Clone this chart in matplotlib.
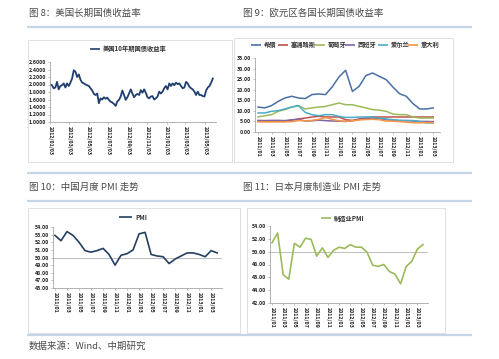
import numpy as np
import pandas as pd
import matplotlib
matplotlib.use("Agg")
import matplotlib.pyplot as plt
from matplotlib.lines import Line2D
from matplotlib.patches import Rectangle

plt.rcParams['font.family'] = ['Noto Sans CJK SC', 'DejaVu Sans']

# ---- data ----
us_yield = [2.00, 1.98, 1.90, 1.92, 2.07, 1.87, 1.96, 1.98, 2.03, 1.92, 2.03, 1.96, 2.05, 2.16,
            2.38, 2.34, 2.20, 2.27, 2.13, 2.05, 2.03, 2.00, 1.98, 1.96, 1.90, 1.84, 1.75, 1.72,
            1.76, 1.50, 1.63, 1.60, 1.66, 1.62, 1.65, 1.59, 1.54, 1.52, 1.48, 1.43, 1.55, 1.59,
            1.68, 1.84, 1.72, 1.59, 1.66, 1.76, 1.87, 1.76, 1.66, 1.72, 1.75, 1.72, 1.85, 1.78,
            1.87, 1.78, 1.66, 1.63, 1.68, 1.69, 1.60, 1.63, 1.68, 1.81, 1.76, 1.81, 1.90, 1.96,
            1.87, 2.03, 1.96, 2.03, 1.98, 2.05, 2.01, 2.03, 1.96, 1.90, 1.92, 2.07, 2.03, 1.94,
            1.90, 1.87, 1.81, 1.72, 1.81, 1.72, 1.72, 1.69, 1.68, 1.84, 1.92, 1.96, 2.05, 2.16]
us_ticks = ['2012/01/03', '2012/03/03', '2012/05/03', '2012/07/03', '2012/09/03',
            '2012/11/03', '2013/01/03', '2013/03/03', '2013/05/03']

euro_names = ['希腊', '塞浦路斯', '葡萄牙', '西班牙', '爱尔兰', '意大利']
greece = [11.8, 11.4, 12.5, 14.5, 16.1, 16.9, 16.1, 15.8, 17.7, 18.0, 17.7, 21.3, 26.0, 29.2,
          19.2, 21.6, 26.7, 27.9, 26.3, 24.8, 21.3, 18.1, 16.9, 13.4, 10.9, 10.9, 11.4]
cyprus = [5.0, 5.0, 5.0, 5.0, 5.0, 5.5, 6.2, 6.6, 7.1, 7.4, 7.1, 7.1, 7.1, 5.8, 5.5, 6.2, 6.6,
          7.1, 7.1, 7.1, 7.1, 7.1, 7.1, 7.1, 7.1, 7.1, 7.1]
portugal = [7.1, 7.7, 8.2, 9.8, 10.6, 11.8, 12.5, 10.9, 11.4, 11.8, 12.1, 12.9, 13.7, 12.9, 12.9,
            12.1, 11.4, 10.6, 10.3, 9.8, 8.5, 8.2, 8.2, 7.1, 6.6, 6.6, 6.6]
spain = [5.5, 5.4, 5.5, 5.5, 5.4, 5.8, 6.0, 5.2, 5.3, 5.6, 5.4, 5.2, 5.1, 5.0, 5.3, 5.9, 6.4,
         6.6, 6.3, 5.8, 5.6, 5.4, 5.3, 5.2, 5.0, 5.0, 4.9]
ireland = [9.0, 9.0, 9.8, 10.1, 10.9, 11.8, 12.5, 9.3, 8.2, 7.7, 8.2, 8.2, 7.4, 6.9, 6.9, 7.1,
           7.1, 7.1, 6.6, 6.2, 5.8, 5.5, 5.5, 5.4, 5.0, 4.3, 4.3]
italy = [4.8, 4.8, 4.8, 4.8, 4.8, 4.9, 5.4, 5.3, 5.5, 6.0, 6.8, 6.0, 5.3, 5.0, 5.3, 5.7, 5.9,
         6.0, 5.8, 5.2, 5.1, 4.9, 4.6, 4.4, 4.3, 4.5, 4.4]
euro_months = ['2011/01', '2011/02', '2011/03', '2011/04', '2011/05', '2011/06', '2011/07',
               '2011/08', '2011/09', '2011/10', '2011/11', '2011/12', '2012/01', '2012/02',
               '2012/03', '2012/04', '2012/05', '2012/06', '2012/07', '2012/08', '2012/09',
               '2012/10', '2012/11', '2012/12', '2013/01', '2013/02', '2013/03']

pmi_months = euro_months + ['2013/04']
china_pmi = [52.9, 52.2, 53.4, 52.9, 52.0, 50.9, 50.7, 50.9, 51.2, 50.4, 49.0, 50.3, 50.5, 51.0,
             53.1, 53.3, 50.4, 50.2, 50.1, 49.2, 49.8, 50.2, 50.6, 50.6, 50.4, 50.1, 50.9, 50.6]
japan_pmi = [51.4, 52.9, 46.4, 45.7, 51.3, 50.7, 52.1, 51.9, 49.3, 50.6, 49.1, 50.2, 50.7, 50.5,
             51.1, 50.7, 50.7, 49.9, 47.9, 47.7, 48.0, 46.9, 46.5, 45.0, 47.7, 48.5, 50.4, 51.1]

# ---- layout helpers (pixel coords, origin top-left) ----
W, H = 499, 359
fig = plt.figure(figsize=(W / 100, H / 100), dpi=100)
fig.patch.set_facecolor('white')


def px_axes(x0, y0, x1, y1):
    return fig.add_axes([x0 / W, 1 - y1 / H, (x1 - x0) / W, (y1 - y0) / H])


def hline(x0, x1, y, color='#C5D5E8', lw=1.6):
    fig.add_artist(Line2D([x0 / W, x1 / W], [1 - y / H, 1 - y / H], color=color, lw=lw,
                          solid_capstyle='butt', transform=fig.transFigure))


def box(x0, y0, x1, y1):
    fig.add_artist(Rectangle((x0 / W, 1 - y1 / H), (x1 - x0) / W, (y1 - y0) / H, fill=False,
                             edgecolor='#DADADA', lw=0.6, transform=fig.transFigure))


def title(x, y, s):
    fig.text(x / W, 1 - y / H, s, fontsize=6.8, color='#4A4A4A', va='center', ha='left')


def legend_item(x, y, label, color, length=10):
    # little line sample + bold label, like the spreadsheet legend
    hline(x, x + length, y, color=color, lw=1.2)
    fig.text((x + length + 3) / W, 1 - y / H, label, fontsize=4.5, fontweight='bold',
             color='#333333', va='center', ha='left')


def style(ax, fmt):
    for s in ['top', 'right']:
        ax.spines[s].set_visible(False)
    for s in ['left', 'bottom']:
        ax.spines[s].set_color('#A6A6A6')
        ax.spines[s].set_linewidth(0.6)
    ax.tick_params(axis='both', length=1.5, width=0.5, color='#A6A6A6', pad=1.5,
                   labelsize=3.8, labelcolor='#222222')
    ax.yaxis.set_major_formatter(matplotlib.ticker.FormatStrFormatter(fmt))
    for t in ax.get_yticklabels() + ax.get_xticklabels():
        t.set_fontweight('bold')


# separators and boxes
hline(27, 472, 26.5)
hline(27, 472, 173)
hline(27, 472, 201)
hline(27, 472, 335)
box(28, 40, 232, 162)
box(234, 38, 453, 162)
box(28, 208, 240, 333)
box(247, 208, 445, 333)

title(29, 13, '图 8：美国长期国债收益率')
title(243, 13, '图 9：欧元区各国长期国债收益率')
title(29, 187, '图 10：中国月度 PMI 走势')
title(243, 187, '图 11：日本月度制造业 PMI 走势')
fig.text(29 / W, 1 - 346 / H, '数据来源：Wind、中期研究', fontsize=6.8, color='#4A4A4A',
         va='center', ha='left')

# ---- chart 1: US 10y yield ----
ax1 = px_axes(50, 62, 216, 122)
dates = pd.date_range('2012-01-03', '2013-05-28', periods=len(us_yield))
ax1.plot(dates, us_yield, color='#1F3F6E', lw=1.3)
ax1.set_ylim(1.0, 2.6)
ax1.set_yticks(np.arange(1.0, 2.61, 0.2))
ax1.set_xlim(dates[0] - pd.Timedelta(days=1), dates[-1] + pd.Timedelta(days=10))
ax1.set_xticks(pd.to_datetime(us_ticks, format='%Y/%m/%d'))
ax1.set_xticklabels(us_ticks, rotation=-90)
style(ax1, '%.4f')
legend_item(90, 49, '美国10年期国债收益率', '#1F3F6E')

# ---- chart 2: euro area yields ----
ax2 = px_axes(255, 58, 440, 132)
euro_series = [greece, cyprus, portugal, spain, ireland, italy]
euro_colors = ['#4A6FA5', '#C0504D', '#9BBB59', '#8064A2', '#4BACC6', '#F79646']
xi = np.arange(len(euro_months))
for name, vals, c in zip(euro_names, euro_series, euro_colors):
    ax2.plot(xi, vals, color=c, lw=1.1)
ax2.set_ylim(0, 35)
ax2.set_yticks(np.arange(0, 36, 5))
ax2.set_xlim(-0.45, 27.0)
ax2.set_xticks(xi[::2])
ax2.set_xticklabels(euro_months[::2], rotation=-90)
style(ax2, '%.2f')
for lx, name, c in zip([251, 278, 315, 345, 378, 408], euro_names, euro_colors):
    legend_item(lx, 45, name, c)

# ---- chart 3: China PMI ----
ax3 = px_axes(53, 227, 222, 288)
xp = np.arange(len(pmi_months))
ax3.axhline(50, color='#BFBFBF', lw=0.7)
ax3.plot(xp, china_pmi, color='#243F60', lw=1.2)
ax3.set_ylim(46, 54)
ax3.set_yticks(np.arange(46, 54.1, 1))
ax3.set_xlim(-0.33, 27.8)
ax3.set_xticks(xp[::2])
ax3.set_xticklabels(pmi_months[::2], rotation=-90)
style(ax3, '%.2f')
legend_item(119, 217, 'PMI', '#243F60', length=13)

# ---- chart 4: Japan manufacturing PMI ----
ax4 = px_axes(270, 226, 428, 303)
ax4.axhline(50, color='#BFBFBF', lw=0.7)
ax4.plot(xp, japan_pmi, color='#9BBB59', lw=1.2)
ax4.set_ylim(42, 54)
ax4.set_yticks(np.arange(42, 54.1, 2))
ax4.set_xlim(-0.36, 27.9)
ax4.set_xticks(xp[::2])
ax4.set_xticklabels(pmi_months[::2], rotation=-90)
style(ax4, '%.2f')
legend_item(321, 218, '制造业PMI', '#9BBB59')

fig.savefig('out.png', dpi=100)
